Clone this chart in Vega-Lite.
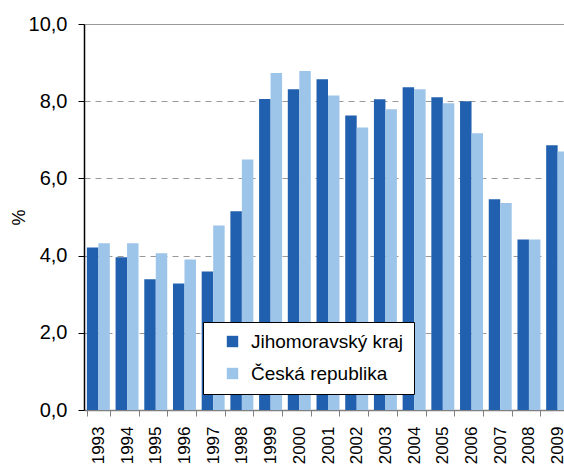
{
  "$schema": "https://vega.github.io/schema/vega-lite/v6.json",
  "autosize": {"type": "none"},
  "padding": {"left": 84, "top": 24, "right": 0, "bottom": 56},
  "width": 480,
  "height": 386,
  "background": "white",
  "config": {
    "font": "Liberation Sans",
    "view": {"stroke": null}
  },
  "data": {
    "values": [
      {"rok": "1993", "serie": "Jihomoravský kraj", "hodnota": 4.21},
      {"rok": "1993", "serie": "Česká republika", "hodnota": 4.32},
      {"rok": "1994", "serie": "Jihomoravský kraj", "hodnota": 3.96},
      {"rok": "1994", "serie": "Česká republika", "hodnota": 4.32},
      {"rok": "1995", "serie": "Jihomoravský kraj", "hodnota": 3.39},
      {"rok": "1995", "serie": "Česká republika", "hodnota": 4.06},
      {"rok": "1996", "serie": "Jihomoravský kraj", "hodnota": 3.28},
      {"rok": "1996", "serie": "Česká republika", "hodnota": 3.9},
      {"rok": "1997", "serie": "Jihomoravský kraj", "hodnota": 3.59},
      {"rok": "1997", "serie": "Česká republika", "hodnota": 4.78},
      {"rok": "1998", "serie": "Jihomoravský kraj", "hodnota": 5.15},
      {"rok": "1998", "serie": "Česká republika", "hodnota": 6.49},
      {"rok": "1999", "serie": "Jihomoravský kraj", "hodnota": 8.06},
      {"rok": "1999", "serie": "Česká republika", "hodnota": 8.73},
      {"rok": "2000", "serie": "Jihomoravský kraj", "hodnota": 8.31},
      {"rok": "2000", "serie": "Česká republika", "hodnota": 8.78},
      {"rok": "2001", "serie": "Jihomoravský kraj", "hodnota": 8.57},
      {"rok": "2001", "serie": "Česká republika", "hodnota": 8.15},
      {"rok": "2002", "serie": "Jihomoravský kraj", "hodnota": 7.63},
      {"rok": "2002", "serie": "Česká republika", "hodnota": 7.32},
      {"rok": "2003", "serie": "Jihomoravský kraj", "hodnota": 8.05},
      {"rok": "2003", "serie": "Česká republika", "hodnota": 7.79},
      {"rok": "2004", "serie": "Jihomoravský kraj", "hodnota": 8.36},
      {"rok": "2004", "serie": "Česká republika", "hodnota": 8.31},
      {"rok": "2005", "serie": "Jihomoravský kraj", "hodnota": 8.1},
      {"rok": "2005", "serie": "Česká republika", "hodnota": 7.95},
      {"rok": "2006", "serie": "Jihomoravský kraj", "hodnota": 8.0},
      {"rok": "2006", "serie": "Česká republika", "hodnota": 7.17},
      {"rok": "2007", "serie": "Jihomoravský kraj", "hodnota": 5.46},
      {"rok": "2007", "serie": "Česká republika", "hodnota": 5.36},
      {"rok": "2008", "serie": "Jihomoravský kraj", "hodnota": 4.42},
      {"rok": "2008", "serie": "Česká republika", "hodnota": 4.42},
      {"rok": "2009", "serie": "Jihomoravský kraj", "hodnota": 6.86},
      {"rok": "2009", "serie": "Česká republika", "hodnota": 6.7}
    ]
  },
  "mark": {"type": "bar", "clip": true},
  "encoding": {
    "x": {
      "field": "rok",
      "type": "nominal",
      "scale": {"range": [0, 488], "paddingInner": 0.2, "paddingOuter": 0.1},
      "axis": {
        "title": null,
        "labelAngle": -90,
        "labelFontSize": 17,
        "labelColor": "black",
        "labelPadding": 10,
        "tickBand": "extent",
        "tickSize": 6,
        "tickColor": "#808080",
        "domainColor": "#808080",
        "domainWidth": 1.5,
        "grid": false
      }
    },
    "xOffset": {"field": "serie", "type": "nominal", "sort": ["Jihomoravský kraj", "Česká republika"]},
    "y": {
      "field": "hodnota",
      "type": "quantitative",
      "scale": {"domain": [0, 10], "nice": false},
      "axis": {
        "title": "%",
        "titleFontSize": 18,
        "titleFontWeight": "normal",
        "titleColor": "black",
        "titlePadding": 0,
        "values": [0, 2, 4, 6, 8, 10],
        "labelExpr": "replace(format(datum.value, '.1f'), '.', ',')",
        "labelFontSize": 20,
        "labelColor": "black",
        "labelPadding": 11,
        "tickSize": 6,
        "tickColor": "black",
        "domainColor": "black",
        "domainWidth": 1.5,
        "grid": true,
        "gridColor": "#999999",
        "gridWidth": 1,
        "gridDash": {"condition": {"test": "datum.value == 10", "value": []}, "value": [6, 5]}
      }
    },
    "color": {
      "field": "serie",
      "type": "nominal",
      "sort": ["Jihomoravský kraj", "Česká republika"],
      "scale": {"domain": ["Jihomoravský kraj", "Česká republika"], "range": ["#2160AE", "#9DC5EA"]},
      "legend": {
        "title": null,
        "orient": "none",
        "legendX": 119,
        "legendY": 298,
        "direction": "vertical",
        "symbolType": "square",
        "symbolSize": 130,
        "symbolStrokeWidth": 0,
        "symbolOffset": 10,
        "labelFontSize": 19,
        "labelColor": "black",
        "labelOffset": 9,
        "rowPadding": 12,
        "padding": 10,
        "strokeColor": "black",
        "fillColor": "white"
      }
    }
  }
}
